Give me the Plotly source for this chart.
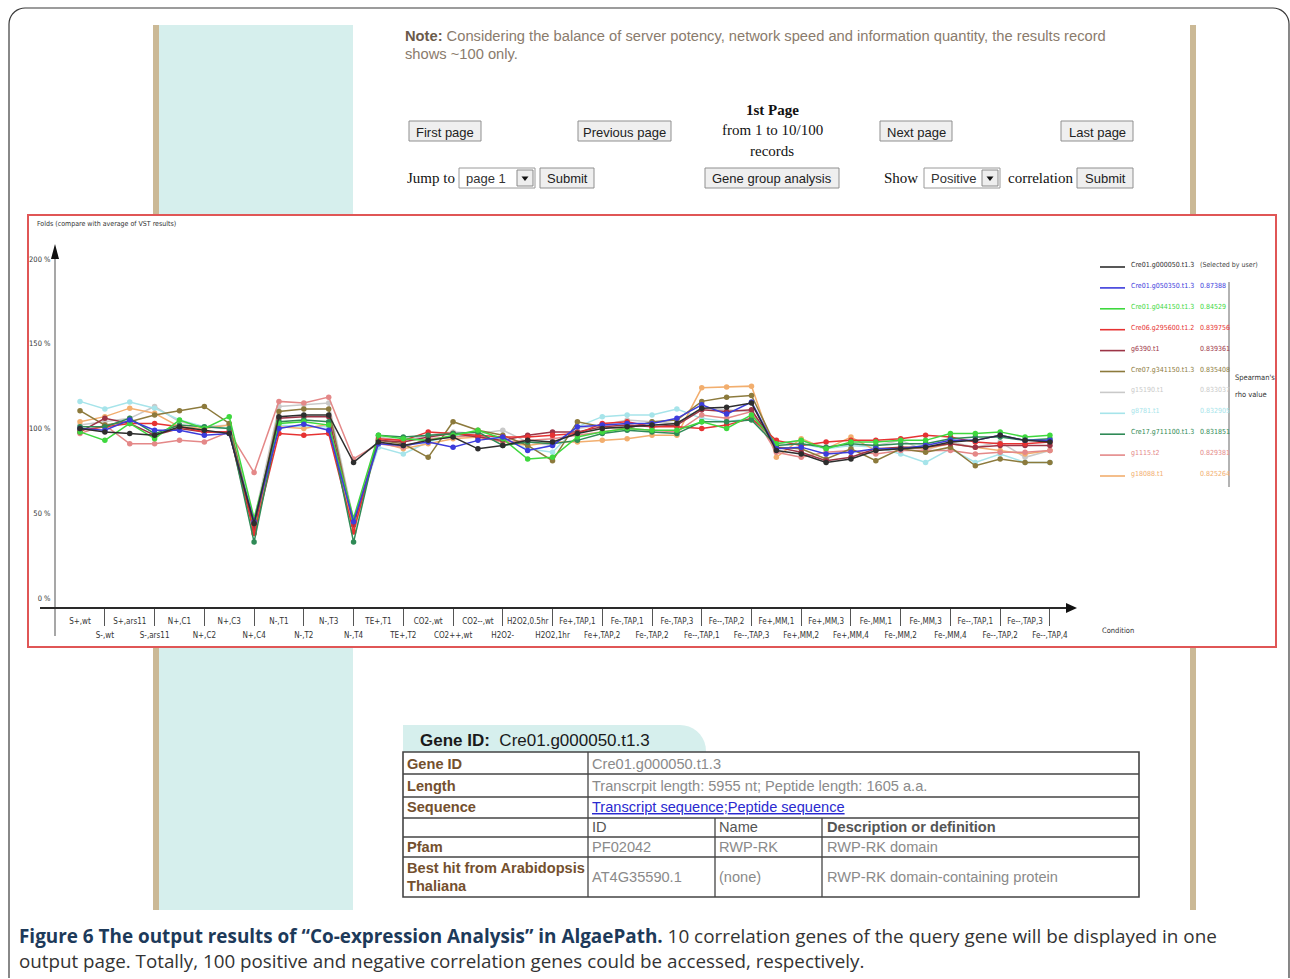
import math
import plotly.graph_objects as go

W, H = 1290, 979


def X(px):
    return px / W


def Y(py):
    return 1 - py / H


# ---------------- data ----------------
conditions = ["S+,wt", "S-,wt", "S+,ars11", "S-,ars11", "N+,C1", "N+,C2", "N+,C3", "N+,C4",
              "N-,T1", "N-,T2", "N-,T3", "N-,T4", "TE+,T1", "TE+,T2", "CO2-,wt", "CO2++,wt",
              "CO2--,wt", "H2O2-", "H2O2,0.5hr", "H2O2,1hr", "Fe+,TAP,1", "Fe+,TAP,2",
              "Fe-,TAP,1", "Fe-,TAP,2", "Fe-,TAP,3", "Fe--,TAP,1", "Fe--,TAP,2", "Fe--,TAP,3",
              "Fe+,MM,1", "Fe+,MM,2", "Fe+,MM,3", "Fe+,MM,4", "Fe-,MM,1", "Fe-,MM,2",
              "Fe-,MM,3", "Fe-,MM,4", "Fe--,TAP,1", "Fe--,TAP,2", "Fe--,TAP,3", "Fe--,TAP,4"]

gene_ids = ["Cre01.g000050.t1.3", "Cre01.g050350.t1.3", "Cre01.g044150.t1.3",
            "Cre06.g295600.t1.2", "g6390.t1", "Cre07.g341150.t1.3", "g15190.t1",
            "g8781.t1", "Cre17.g711100.t1.3", "g1115.t2", "g18088.t1"]
rho_values = ["(Selected by user)", "0.87388", "0.84529", "0.839756", "0.839361",
              "0.835408", "0.833037", "0.832905", "0.831851", "0.829381", "0.825264"]
colors = ["#2e2e2e", "#3c3cdc", "#3ed83e", "#e63232", "#9c3446", "#8c7a3c",
          "#c9c9c9", "#a6e4ea", "#2f8a56", "#e48888", "#f2ae6e"]

cre01_g000050 = [100, 98, 97, 96, 101, 99, 97, 44, 107, 108, 108, 80,
                 92, 90, 93, 95, 88, 90, 93, 92, 97, 100, 101, 102, 103, 112, 112.5, 115,
                 87, 85, 80, 82, 87, 88, 89, 92, 93, 96, 93, 92]
cre01_g050350 = [100, 99, 105, 99, 99, 96, 97, 45, 100, 102.5, 99, 45,
                 91, 90, 92, 89, 93, 95, 87, 90, 101, 102, 103, 103, 106, 114, 108.5, 115.6,
                 88, 89, 85, 86, 88, 88, 90, 93, 93, 96, 93, 93]
cre01_g044150 = [98, 93, 103, 94, 105, 100, 107, 47, 103, 104, 102, 47,
                 96, 94, 93, 96, 99, 94, 82, 83, 95, 98, 100, 99, 99, 104, 100, 108,
                 91, 93, 88, 92, 92, 93, 93, 97, 97, 98, 95, 96]
cre06_g295600 = [99, 101, 103, 103, 101, 98, 98, 38, 97, 96, 97, 39,
                 94, 93, 98, 97, 96, 95, 95, 96, 97, 103, 104, 101, 101, 100, 102, 106,
                 93, 90, 92, 93, 93, 94, 96, 95, 92, 91, 91, 92]
g6390 = [98, 106, 103, 96, 100, 98, 98, 41, 106, 107, 107, 43,
         93, 92, 95, 97, 95, 93, 96, 98, 98, 101, 102, 101, 102, 111, 110, 111,
         89, 86, 81, 83, 88, 89, 89, 91, 89, 90, 90, 90]
cre07_g341150 = [110.5, 102, 104, 108, 110.5, 113, 103, 42, 110, 111.5, 111.5, 44,
                 93, 91, 83, 104, 99, 96, 90, 81, 104, 101, 100, 104, 105, 116, 118.5, 119.5,
                 89, 88, 82, 88, 81, 88, 86, 89, 78, 82, 80, 80]
g15190 = [102, 104, 106, 113, 104, 101, 102, 46, 113, 114, 115, 46,
          95, 93, 96, 98, 97, 99, 92, 90, 100, 102, 105, 104, 103, 112, 111, 110,
          91, 93, 89, 90, 90, 93, 87, 92, 89, 92, 83, 87]
g8781 = [116, 111.5, 115.6, 112, 105, 101, 100, 45, 102, 101, 101, 45,
         89, 85, 92, 96, 95, 94, 88, 86, 101, 107, 108, 108, 111.5, 106, 104, 106,
         92, 91, 88, 90, 89, 85, 80, 88, 80, 85, 80, 80]
cre17_g711100 = [101, 101, 106, 97, 102, 101, 100, 33, 104, 105, 104, 33,
                 96, 95, 96, 97, 98, 90, 92, 91, 93, 97, 99, 98, 97, 104, 104, 105,
                 90, 91, 89, 91, 90, 91, 91, 94, 95, 95, 93, 94]
g1115 = [97, 102, 91, 91, 93, 92, 98, 74, 116, 115, 118.5, 82,
         91, 89, 94, 95, 96, 92, 93, 94, 96, 98, 100, 99, 98, 108, 106, 110,
         86, 83, 86, 87, 85, 87, 87, 87, 85, 86, 86, 87]
g18088 = [104, 107, 112, 109, 101, 100, 102, 40, 101, 100, 102.5, 40,
          92, 88, 91, 94, 95, 92, 90, 92, 92, 93, 94, 96, 96, 124, 124.5, 125,
          83, 94, 88, 95, 87, 89, 88, 91, 89, 87, 85, 87]

series = [cre01_g000050, cre01_g050350, cre01_g044150, cre06_g295600, g6390,
          cre07_g341150, g15190, g8781, cre17_g711100, g1115, g18088]

y_tick_values = [0, 50, 100, 150, 200]

NARROW = "Liberation Sans Narrow, DejaVu Sans Condensed, Arial Narrow, sans-serif"
SANS = "Liberation Sans, Arial, sans-serif"
SERIF = "Liberation Serif, Times New Roman, serif"

fig = go.Figure()
xs = list(range(len(conditions)))
draw_order = [6, 7, 10, 9, 5, 4, 3, 8, 2, 1, 0]
for i in draw_order:
    fig.add_trace(go.Scatter(
        x=xs, y=series[i], mode="lines+markers", name=gene_ids[i],
        line=dict(color=colors[i], width=1.5),
        marker=dict(color=colors[i], size=5.5),
        showlegend=False, cliponaxis=False))
# carrier for the second (lower) row of condition labels
fig.add_trace(go.Scatter(x=[], y=[], xaxis="x2", yaxis="y", showlegend=False, hoverinfo="skip"))

even_idx = [k for k in xs if k % 2 == 0]
odd_idx = [k for k in xs if k % 2 == 1]

shapes = []
annotations = []


def rect(x0, y0, x1, y1, fill=None, line=None, width=1, layer="below"):
    shapes.append(dict(type="rect", xref="paper", yref="paper",
                       x0=X(x0), x1=X(x1), y0=Y(y1), y1=Y(y0),
                       fillcolor=fill if fill else "rgba(0,0,0,0)",
                       line=dict(color=line if line else "rgba(0,0,0,0)", width=width if line else 0),
                       layer=layer))


def hline(x0, x1, y, color, width=1, layer="below"):
    shapes.append(dict(type="line", xref="paper", yref="paper", x0=X(x0), x1=X(x1),
                       y0=Y(y), y1=Y(y), line=dict(color=color, width=width), layer=layer))


def vline(x, y0, y1, color, width=1, layer="below"):
    shapes.append(dict(type="line", xref="paper", yref="paper", x0=X(x), x1=X(x),
                       y0=Y(y0), y1=Y(y1), line=dict(color=color, width=width), layer=layer))


def path(pts, fill=None, line=None, width=1, close=True, layer="below"):
    d = "M " + " L ".join(f"{X(px):.5f},{Y(py):.5f}" for px, py in pts)
    if close:
        d += " Z"
    shapes.append(dict(type="path", xref="paper", yref="paper", path=d,
                       fillcolor=fill if fill else "rgba(0,0,0,0)",
                       line=dict(color=line if line else "rgba(0,0,0,0)", width=width if line else 0),
                       layer=layer))


def text(px, py, s, size=13, color="#333", family=SANS, anchor="left", valign="middle"):
    annotations.append(dict(xref="paper", yref="paper", x=X(px), y=Y(py), text=s,
                            showarrow=False, xanchor=anchor, yanchor=valign,
                            font=dict(size=size, color=color, family=family)))


# ---------------- page chrome ----------------
TAN = "#cbb996"
CYAN = "#d6efed"
for y0, y1 in [(25, 215), (647, 910)]:
    rect(159, y0, 353, y1, fill=CYAN)
    rect(153, y0, 159, y1, fill=TAN)
    rect(1190, y0, 1196, y1, fill=TAN)

# outer rounded frame
frame = [(9, 978)]
for a in range(180, 271, 10):
    t = math.radians(a)
    frame.append((25 + 16 * math.cos(t), 24 + 16 * math.sin(t)))
for a in range(270, 361, 10):
    t = math.radians(a)
    frame.append((1273 + 16 * math.cos(t), 24 + 16 * math.sin(t)))
frame.append((1289, 978))
path(frame, line="#3a3a3a", width=1.2, close=False)

# chart box
rect(28, 215, 1276, 647, fill="white", line="#e05656", width=2)

# top note
text(403, 36, "<span style='color:#6b5a4a'><b>Note:</b></span> Considering the balance of server potency, "
     "network speed and information quantity, the results record", size=14.7, color="#8a7b6c")
text(403, 54, "shows ~100 only.", size=14.7, color="#8a7b6c")

text(772, 110, "<b>1st Page</b>", size=15, color="#111", family=SERIF, anchor="center")
text(772, 130, "from 1 to 10/100", size=15, color="#111", family=SERIF, anchor="center")
text(772, 151, "records", size=15, color="#111", family=SERIF, anchor="center")


def button(x0, x1, y0, y1, label):
    rect(x0, y0, x1, y1, fill="#efefef", line="#8f8f8f", width=1)
    text((x0 + x1) / 2, (y0 + y1) / 2 + 1, label, size=13, color="#222", anchor="center")


button(409, 481, 121, 141, "First page")
button(578, 671, 121, 141, "Previous page")
button(880, 952, 121, 141, "Next page")
button(1061, 1133, 121, 141, "Last page")
button(540, 594, 168, 188, "Submit")
button(705, 839, 168, 188, "Gene group analysis")
button(1077, 1133, 168, 188, "Submit")

text(405, 178, "Jump to", size=15, color="#111", family=SERIF)
text(882, 178, "Show", size=15, color="#111", family=SERIF)
text(1006, 178, "correlation", size=15, color="#111", family=SERIF)


def select(x0, x1, label):
    rect(x0, 168, x1, 188, fill="white", line="#9a9a9a", width=1)
    rect(x1 - 18, 170, x1 - 2, 186, fill="#eeeeee", line="#8a8a8a", width=1)
    cx = x1 - 10
    path([(cx - 3.5, 176.5), (cx + 3.5, 176.5), (cx, 181)], fill="#111")
    text(x0 + 5, 179, label, size=13, color="#333")


select(459, 535, "page 1")
select(924, 1000, "Positive")

# ---------------- chart decorations ----------------
X0_PX, X1_PX = 55, 1075
Y_TOP, Y_AX = 245, 608
vline(55, 258, 636, "#8a8a8a", width=1.5, layer="above")
path([(55, 244), (51, 259), (59, 259)], fill="#111", layer="above")
hline(40, 1067, 608, "#2a2a2a", width=2, layer="above")
path([(1077, 608), (1066, 603), (1066, 613)], fill="#111", layer="above")

text(35, 224, "Folds (compare with average of VST results)", size=7, color="#333", family=NARROW)
text(1100, 630, "Condition", size=7.5, color="#333", family=NARROW)

# legend (custom)
for k in range(len(gene_ids)):
    ly = 265 + 20.9 * k
    hline(1100, 1125, ly + 2, colors[k], width=1.6, layer="above")
    c = "#444" if k == 0 else colors[k]
    text(1129, ly, gene_ids[k], size=7, color=colors[k], family=NARROW)
    text(1198, ly, rho_values[k], size=7, color=c, family=NARROW)
vline(1229, 282, 487, "#9a9a9a", width=1.5, layer="above")
text(1233, 378, "Spearman's", size=7.5, color="#333", family=NARROW)
text(1233, 394, "rho value", size=7.5, color="#333", family=NARROW)

# ---------------- gene table ----------------
tab = [(403, 752), (403, 725)]
for a in range(270, 361, 10):
    t = math.radians(a)
    tab.append((680 + 26 * math.cos(t), 751 + 26 * math.sin(t)))
tab.append((706, 752))
path(tab, fill=CYAN)
text(418, 740, "<b>Gene ID:</b>  Cre01.g000050.t1.3", size=17, color="#1a1a1a")

rect(403, 752, 1139, 897, fill="white", line="#444", width=1.6)
for yy in [774, 797, 818, 837, 857]:
    hline(403, 1139, yy, "#444", width=1.3)
vline(588, 752, 897, "#444", width=1.3)
vline(715, 818, 897, "#444", width=1.3)
vline(822, 818, 897, "#444", width=1.3)

BROWN = "#74502e"
GRAY = "#8a8a8a"
TS = 14.6
text(405, 764, "<b>Gene ID</b>", size=TS, color=BROWN)
text(405, 786, "<b>Length</b>", size=TS, color=BROWN)
text(405, 807, "<b>Sequence</b>", size=TS, color=BROWN)
text(405, 847, "<b>Pfam</b>", size=TS, color=BROWN)
text(405, 868, "<b>Best hit from Arabidopsis</b>", size=TS, color=BROWN)
text(405, 886, "<b>Thaliana</b>", size=TS, color=BROWN)
text(590, 764, "Cre01.g000050.t1.3", size=TS, color=GRAY)
text(590, 786, "Transcrpit length: 5955 nt; Peptide length: 1605 a.a.", size=TS, color=GRAY)
text(590, 807, "<u>Transcript sequence</u>;<u>Peptide sequence</u>", size=TS, color="#2a2ad0")
text(590, 827, "ID", size=TS, color="#555")
text(717, 827, "Name", size=TS, color="#555")
text(825, 827, "<b>Description or definition</b>", size=TS, color="#555")
text(590, 847, "PF02042", size=TS, color=GRAY)
text(717, 847, "RWP-RK", size=TS, color=GRAY)
text(825, 847, "RWP-RK domain", size=TS, color=GRAY)
text(590, 877, "AT4G35590.1", size=TS, color=GRAY)
text(717, 877, "(none)", size=TS, color=GRAY)
text(825, 877, "RWP-RK domain-containing protein", size=TS, color=GRAY)

# ---------------- caption ----------------
CAP = "Open Sans, Noto Sans, sans-serif"
text(17, 936, "<span style='color:#1d3a5a'><b>Figure 6 The output results of “Co-expression Analysis” in AlgaePath.</b></span>"
     " 10 correlation genes of the query gene will be displayed in one", size=18.9, color="#333", family=CAP)
text(17, 961, "output page. Totally, 100 positive and negative correlation genes could be accessed, respectively.",
     size=18.8, color="#333", family=CAP)

# ---------------- layout ----------------
x_lo = -(80 - X0_PX) / 24.87
x_hi = (X1_PX - 80) / 24.87
y_per = 1.695
y_lo = (598 - Y_AX) / y_per
y_hi = (598 - Y_TOP) / y_per

tickfont = dict(size=8, color="#333", family=NARROW)
fig.update_layout(
    width=W, height=H,
    margin=dict(l=0, r=0, t=0, b=0),
    paper_bgcolor="white", plot_bgcolor="rgba(0,0,0,0)",
    xaxis=dict(domain=[X(X0_PX), X(X1_PX)], range=[x_lo, x_hi],
               tickmode="array", tickvals=even_idx, ticktext=[conditions[k] for k in even_idx],
               tickangle=0, ticks="outside", ticklen=5, tickcolor="rgba(0,0,0,0)",
               tickfont=tickfont, showgrid=False, zeroline=False, showline=False,
               minor=dict(tickmode="array", tickvals=odd_idx,
                          ticks="outside", ticklen=17, tickcolor="#555", tickwidth=1, showgrid=False)),
    xaxis2=dict(domain=[X(X0_PX), X(X1_PX)], range=[x_lo, x_hi], overlaying="x", anchor="y",
                side="bottom", tickmode="array", tickvals=odd_idx,
                ticktext=[conditions[k] for k in odd_idx], tickangle=0,
                ticks="outside", ticklen=19, tickcolor="rgba(0,0,0,0)",
                tickfont=tickfont, showgrid=False, zeroline=False, showline=False),
    yaxis=dict(domain=[Y(Y_AX), Y(Y_TOP)], range=[y_lo, y_hi],
               tickmode="array", tickvals=y_tick_values,
               ticktext=[f"{v} %" for v in y_tick_values],
               ticks="outside", ticklen=2, tickcolor="rgba(0,0,0,0)",
               tickfont=dict(size=7.5, color="#333", family=NARROW),
               showgrid=False, zeroline=False, showline=False),
    shapes=shapes, annotations=annotations,
)

fig.write_html("out.html", config={"displayModeBar": False},
               post_script="document.body.style.margin='0px';")
